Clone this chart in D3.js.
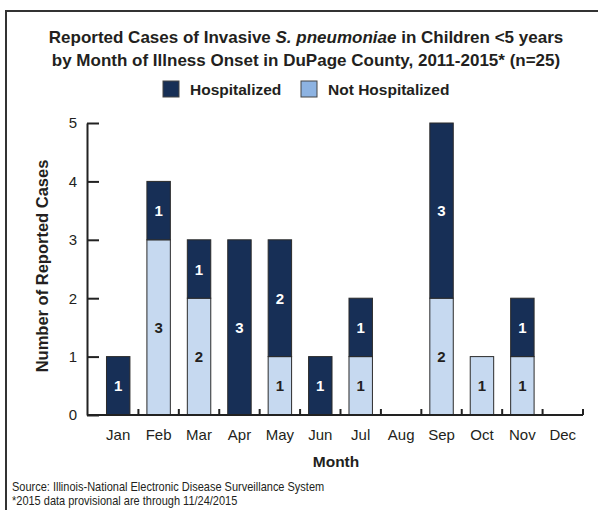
<!DOCTYPE html>
<html>
	<head>
		<meta charset="utf-8">
		<script src="https://cdnjs.cloudflare.com/ajax/libs/d3/7.8.5/d3.min.js" charset="utf-8"></script>
		<style>
			body {
				margin: 0;
				background: #fff;
				font-family: "Liberation Sans", Arial, sans-serif;
			}
			.title {
				font-size: 17px;
				font-weight: bold;
				fill: #231f20;
				text-anchor: middle;
			}
			.legendText {
				font-size: 15.5px;
				font-weight: bold;
				fill: #231f20;
			}
			.axisTitle {
				font-weight: bold;
				fill: #231f20;
				text-anchor: middle;
			}
			.note {
				font-size: 12.5px;
				fill: #231f20;
			}
			.barLabel {
				font-size: 15px;
				font-weight: bold;
				text-anchor: middle;
			}
		</style>
	</head>
	<body>
		<div id="chart"></div>

		<script>

			//////////////////////////////////////////////////////////////
			/////////////////////////// Data /////////////////////////////
			//////////////////////////////////////////////////////////////

			var months = ["Jan","Feb","Mar","Apr","May","Jun","Jul","Aug","Sep","Oct","Nov","Dec"];
			var hospitalized    = [1, 1, 1, 3, 2, 1, 1, 0, 3, 0, 1, 0];
			var notHospitalized = [0, 3, 2, 0, 1, 0, 1, 0, 2, 1, 1, 0];
			var yTicks = [0, 1, 2, 3, 4, 5];
			var seriesNames = ["Hospitalized", "Not Hospitalized"];

			var darkBlue = "#172f56",
				lightBlue = "#c6d9f0",
				legendLight = "#8db3e2";

			//////////////////////////////////////////////////////////////
			////////////////////////// Set up ////////////////////////////
			//////////////////////////////////////////////////////////////

			var W = 598, H = 510;
			var svg = d3.select("#chart").append("svg")
				.attr("width", W)
				.attr("height", H);

			//frame (only top and left edges are visible)
			svg.append("path")
				.attr("d", "M6," + H + "V11H" + W)
				.attr("fill", "none")
				.attr("stroke", "#333")
				.attr("stroke-width", 2);

			//Titles
			svg.append("text").attr("class", "title")
				.attr("x", 306).attr("y", 43)
				.call(function(t) {
					t.append("tspan").text("Reported Cases of Invasive ");
					t.append("tspan").style("font-style", "italic").text("S. pneumoniae");
					t.append("tspan").text(" in Children <5 years");
				});
			svg.append("text").attr("class", "title")
				.attr("x", 306).attr("y", 66)
				.text("by Month of Illness Onset in DuPage County, 2011-2015* (n=25)");

			//Legend
			var legendX = [163, 301];
			var legend = svg.selectAll(".legendItem")
				.data(seriesNames)
				.enter().append("g")
				.attr("class", "legendItem")
				.attr("transform", function(d,i) { return "translate(" + legendX[i] + ",81)"; });
			legend.append("rect")
				.attr("width", 16).attr("height", 16)
				.attr("fill", function(d,i) { return i === 0 ? darkBlue : legendLight; })
				.attr("stroke", "#444").attr("stroke-width", 1);
			legend.append("text")
				.attr("class", "legendText")
				.attr("x", 27).attr("y", 14)
				.text(function(d) { return d; });

			//////////////////////////////////////////////////////////////
			////////////////////////// Scales ////////////////////////////
			//////////////////////////////////////////////////////////////

			var axisX = 87;
			var x = d3.scaleBand()
				.domain(months)
				.range([98, 583])
				.paddingInner(0.42)
				.paddingOuter(0.21);

			var y = d3.scaleLinear()
				.domain([0, 5])
				.range([415, 123]);

			var stackData = months.map(function(m, i) {
				return { month: m, "Not Hospitalized": notHospitalized[i], "Hospitalized": hospitalized[i] };
			});
			var stack = d3.stack().keys(["Not Hospitalized", "Hospitalized"])(stackData);

			//////////////////////////////////////////////////////////////
			/////////////////////////// Bars /////////////////////////////
			//////////////////////////////////////////////////////////////

			var layers = svg.selectAll(".layer")
				.data(stack)
				.enter().append("g")
				.attr("class", "layer");

			layers.selectAll("rect")
				.data(function(d) { return d.map(function(p) { return { key: d.key, p: p }; }); })
				.enter().filter(function(d) { return d.p[1] > d.p[0]; })
				.append("rect")
				.attr("x", function(d) { return x(d.p.data.month); })
				.attr("width", x.bandwidth())
				.attr("y", function(d) { return y(d.p[1]); })
				.attr("height", function(d) { return y(d.p[0]) - y(d.p[1]); })
				.attr("fill", function(d) { return d.key === "Hospitalized" ? darkBlue : lightBlue; })
				.attr("stroke", "#2b2b2b")
				.attr("stroke-width", 1);

			layers.selectAll("text")
				.data(function(d) { return d.map(function(p) { return { key: d.key, p: p }; }); })
				.enter().filter(function(d) { return d.p[1] > d.p[0]; })
				.append("text")
				.attr("class", "barLabel")
				.attr("x", function(d) { return x(d.p.data.month) + x.bandwidth()/2; })
				.attr("y", function(d) { return (y(d.p[0]) + y(d.p[1]))/2 + 5.5; })
				.attr("fill", function(d) { return d.key === "Hospitalized" ? "#fff" : "#231f20"; })
				.text(function(d) { return d.p[1] - d.p[0]; });

			//////////////////////////////////////////////////////////////
			/////////////////////////// Axes /////////////////////////////
			//////////////////////////////////////////////////////////////

			var yAxis = svg.append("g")
				.attr("transform", "translate(" + axisX + ",0)")
				.call(d3.axisLeft(y).tickValues(yTicks).tickFormat(d3.format("d"))
					.tickSize(-12).tickPadding(10).tickSizeOuter(0));
			yAxis.attr("font-size", 15).attr("font-family", "Liberation Sans, Arial, sans-serif");
			yAxis.select(".domain").attr("stroke", "#222").attr("stroke-width", 2);
			yAxis.selectAll(".tick line").attr("stroke", "#222").attr("stroke-width", 2);
			yAxis.selectAll(".tick text").attr("fill", "#231f20");

			var xAxis = svg.append("g")
				.attr("transform", "translate(0," + y(0) + ")")
				.call(d3.axisBottom(x).tickSize(0).tickPadding(14));
			xAxis.attr("font-size", 15).attr("font-family", "Liberation Sans, Arial, sans-serif");
			xAxis.select(".domain")
				.attr("d", "M" + axisX + ",0H" + x.range()[1])
				.attr("stroke", "#222").attr("stroke-width", 2);
			xAxis.selectAll(".tick text").attr("fill", "#231f20");

			//small upward ticks at the right edge of every month
			var step = x.step();
			function sepX(d) {
				return d === "Dec" ? x.range()[1] : x(d) + x.bandwidth() + step*x.paddingInner()/2;
			}
			xAxis.selectAll(".sep")
				.data(months)
				.enter().append("line")
				.attr("class", "sep")
				.attr("x1", sepX)
				.attr("x2", sepX)
				.attr("y1", 0).attr("y2", -6)
				.attr("stroke", "#222").attr("stroke-width", 2);

			//Axis titles
			svg.append("text").attr("class", "axisTitle")
				.attr("transform", "translate(48,266) rotate(-90)")
				.style("font-size", "16.5px")
				.text("Number of Reported Cases");
			svg.append("text").attr("class", "axisTitle")
				.attr("x", 336).attr("y", 467)
				.style("font-size", "15.5px")
				.text("Month");

			//Notes
			svg.append("text").attr("class", "note")
				.attr("transform", "translate(12,491) scale(0.88,1)")
				.text("Source: Illinois-National Electronic Disease Surveillance System");
			svg.append("text").attr("class", "note")
				.attr("transform", "translate(12,505) scale(0.88,1)")
				.text("*2015 data provisional are through 11/24/2015");

		</script>
	</body>
</html>
